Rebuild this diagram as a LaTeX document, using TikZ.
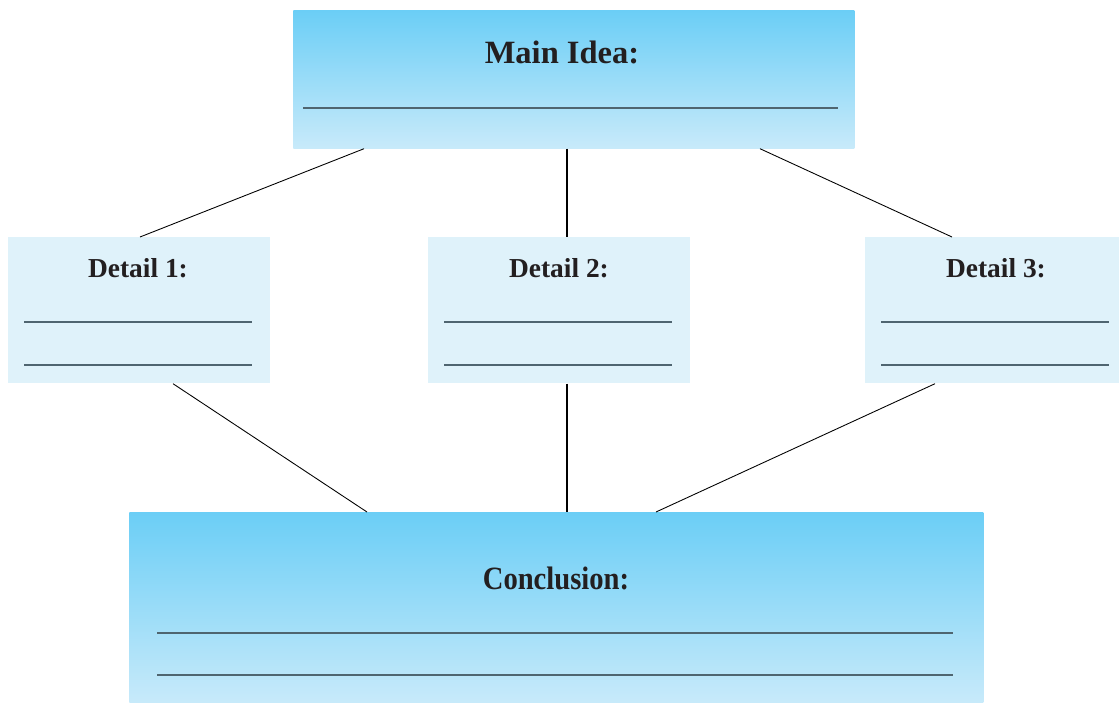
\documentclass[tikz,border=0pt]{standalone}
\usepackage{fontspec}
\usepackage{graphicx}
\setmainfont{Liberation Serif}
\usetikzlibrary{calc}
\definecolor{topblue}{HTML}{6BCEF6}
\definecolor{botblue}{HTML}{C8EAFA}
\definecolor{paleblue}{HTML}{DFF2FA}
\definecolor{inkdark}{HTML}{231F20}
\definecolor{rulegray}{HTML}{4F6570}
\tikzset{
  x=0.02cm, y=-0.02cm,
  gradbox/.style={rectangle, draw=none, top color=topblue, bottom color=botblue, inner sep=0pt, anchor=north west},
  palebox/.style={rectangle, draw=none, fill=paleblue, inner sep=0pt, anchor=north west},
  title/.style={font=\bfseries, text=inkdark, inner sep=0pt},
  rule/.style={draw=rulegray, line width=0.8pt},
  link/.style={draw=black, line width=0.5pt},
  vlink/.style={draw=black, line width=1pt},
}
\begin{document}
\begin{tikzpicture}
\useasboundingbox (0,0) rectangle (1119,703);
% boxes
\node[gradbox, minimum width=561*0.02cm, minimum height=138*0.02cm] (main) at (293,10) {};
\node[palebox, minimum width=262*0.02cm, minimum height=146*0.02cm] (d1) at (8,237) {};
\node[palebox, minimum width=262*0.02cm, minimum height=146*0.02cm] (d2) at (428,237) {};
\node[palebox, minimum width=254*0.02cm, minimum height=146*0.02cm] (d3) at (865,237) {};
\node[gradbox, minimum width=854*0.02cm, minimum height=191*0.02cm] (conc) at (129,512) {};
% titles
\node[title, font=\fontsize{18.5}{20}\bfseries] (mt) at (562,52) {Main Idea:};
\node[title, font=\fontsize{15.6}{18}\bfseries] (t1) at (138,268) {Detail 1:};
\node[title, font=\fontsize{15.6}{18}\bfseries] (t2) at (559,268) {Detail 2:};
\node[title, font=\fontsize{15.6}{18}\bfseries] (t3) at (996,268) {Detail 3:};
\node[title, font=\fontsize{18.5}{20}\bfseries] (ct) at (556,578) {\scalebox{0.88}[1]{Conclusion:}};
% rules
\draw[rule] (303,108) -- (838,108);
\draw[rule] (24,322) -- (252,322);
\draw[rule] (24,365) -- (252,365);
\draw[rule] (444,322) -- (672,322);
\draw[rule] (444,365) -- (672,365);
\draw[rule] (881,322) -- (1109,322);
\draw[rule] (881,365) -- (1109,365);
\draw[rule] (157,633) -- (953,633);
\draw[rule] (157,675) -- (953,675);
% connectors
\draw[link] ($(main.south west)+(71,0)$) -- ($(d1.north west)+(132,0)$);
\draw[vlink] ($(main.south west)+(274,0)$) -- ($(d2.north west)+(139,0)$);
\draw[link] ($(main.south west)+(467,0)$) -- ($(d3.north west)+(87,0)$);
\draw[link] ($(d1.south west)+(165,0)$) -- ($(conc.north west)+(238,0)$);
\draw[vlink] ($(d2.south west)+(139,0)$) -- ($(conc.north west)+(438,0)$);
\draw[link] ($(d3.south west)+(70,0)$) -- ($(conc.north west)+(527,0)$);
\end{tikzpicture}
\end{document}
